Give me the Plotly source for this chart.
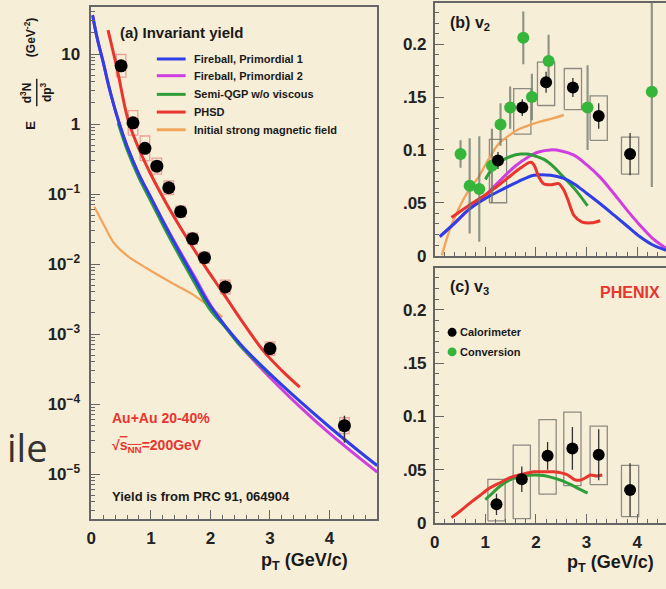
import plotly.graph_objects as go

W, H = 666, 589
BG = "#f7eed8"
FONT = "Liberation Sans"

# ---------------- (a) invariant yield ----------------
pt_yield = [0.5, 0.7, 0.9, 1.1, 1.3, 1.5, 1.7, 1.9, 2.25, 3.0, 4.25]
yield_val = [6.8, 1.04, 0.45, 0.25, 0.123, 0.056, 0.023, 0.0123, 0.0047, 6.2e-4, 4.9e-5]
yield_stat_up = [0.4, 0.06, 0.03, 0.015, 0.008, 0.004, 0.002, 0.001, 0.0004, 6e-5, 1.9e-5]
yield_stat_dn = [0.4, 0.06, 0.03, 0.015, 0.008, 0.004, 0.002, 0.001, 0.0004, 6e-5, 2.1e-5]
yield_sys_rel = [0.45, 0.5, 0.5, 0.3, 0.25, 0.2, 0.2, 0.2, 0.25, 0.25, 0.3]

pt_fb1 = [0.02, 0.1, 0.2, 0.3, 0.45, 0.6, 0.8, 1.0, 1.25, 1.5, 1.75, 2.0, 2.5, 3.0, 3.5, 4.0, 4.5, 4.8]
y_fb1 = [36, 16.6, 7.6, 3.3, 1.15, 0.48, 0.19, 0.089, 0.034, 0.0138, 0.0058, 0.0025,
         7.2e-4, 2.7e-4, 1.1e-4, 4.7e-5, 2.1e-5, 1.32e-5]
pt_fb2 = pt_fb1
y_fb2 = [36, 16.6, 7.6, 3.3, 1.15, 0.48, 0.19, 0.089, 0.035, 0.0145, 0.0062, 0.0026,
         6.9e-4, 2.4e-4, 9.2e-5, 3.8e-5, 1.7e-5, 1.07e-5]
pt_sqgp = [0.45, 0.6, 0.8, 1.0, 1.25, 1.5, 1.75, 2.0, 2.25, 2.5, 2.75, 3.0]
y_sqgp = [1.03, 0.43, 0.17, 0.079, 0.030, 0.0122, 0.0051, 0.0022, 1.25e-3, 6.8e-4, 4.2e-4, 2.6e-4]
pt_phsd = [0.28, 0.43, 0.62, 0.8, 1.0, 1.25, 1.55, 1.9, 2.2, 2.5, 2.9, 3.2, 3.5]
y_phsd = [22, 6.3, 1.12, 0.44, 0.19, 0.076, 0.028, 0.0095, 0.0040, 0.00166, 5.6e-4, 3.0e-4, 1.74e-4]
pt_mag = [0.05, 0.22, 0.38, 0.6, 0.93, 1.33, 1.72, 2.0, 2.2]
y_mag = [0.066, 0.035, 0.020, 0.0132, 0.0087, 0.0055, 0.0036, 0.0024, 0.00174]

# ---------------- (b) v2 ----------------
pt_v2_cal = [1.25, 1.73, 2.20, 2.73, 3.24, 3.86]
v2_cal = [0.090, 0.140, 0.164, 0.159, 0.132, 0.096]
v2_cal_stat = [0.008, 0.008, 0.010, 0.009, 0.012, 0.020]
v2_cal_sys_up = [0.020, 0.018, 0.019, 0.018, 0.019, 0.016]
v2_cal_sys_dn = [0.040, 0.025, 0.022, 0.021, 0.023, 0.019]

pt_v2_conv = [0.51, 0.69, 0.88, 1.13, 1.30, 1.49, 1.75, 1.92, 2.25, 3.02, 4.29]
v2_conv = [0.096, 0.066, 0.063, 0.085, 0.124, 0.140, 0.206, 0.150, 0.184, 0.140, 0.155]
v2_conv_err = [0.013, 0.045, 0.05, 0.035, 0.02, 0.02, 0.025, 0.022, 0.025, 0.04, 0.09]

pt_v2_fb1 = [0.1, 0.4, 0.66, 1.0, 1.31, 1.65, 1.96, 2.29, 2.55, 2.75, 3.0, 3.27, 3.55, 3.8, 4.05, 4.31, 4.57]
v2_fb1 = [0.018, 0.031, 0.043, 0.054, 0.062, 0.070, 0.076, 0.076, 0.073, 0.068, 0.059, 0.049,
          0.038, 0.028, 0.018, 0.010, 0.005]
pt_v2_fb2 = [0.1, 0.4, 0.66, 1.0, 1.31, 1.6, 1.84, 2.05, 2.29, 2.5, 2.75, 3.0, 3.27, 3.55, 3.8, 4.05, 4.31, 4.57]
v2_fb2 = [0.018, 0.031, 0.043, 0.057, 0.072, 0.085, 0.093, 0.098, 0.100, 0.099, 0.095, 0.086,
          0.074, 0.058, 0.043, 0.029, 0.016, 0.007]
pt_v2_sqgp = [1.0, 1.12, 1.3, 1.51, 1.7, 1.84, 2.0, 2.16, 2.35, 2.55, 2.8, 3.02]
v2_sqgp = [0.072, 0.081, 0.089, 0.094, 0.096, 0.096, 0.094, 0.091, 0.084, 0.074, 0.061, 0.047]
pt_v2_phsd = [0.33, 0.66, 1.05, 1.3, 1.51, 1.7, 1.86, 1.92, 1.98, 2.05, 2.15, 2.29, 2.45, 2.55,
              2.63, 2.75, 2.9, 3.1, 3.27]
v2_phsd = [0.036, 0.047, 0.059, 0.068, 0.076, 0.083, 0.088, 0.088, 0.084, 0.075, 0.068, 0.067,
           0.068, 0.062, 0.053, 0.038, 0.032, 0.031, 0.033]
pt_v2_mag = [0.14, 0.3, 0.47, 0.65, 0.86, 1.05, 1.25, 1.45, 1.64, 1.9, 2.1, 2.35, 2.55]
v2_mag = [0.0, 0.025, 0.044, 0.060, 0.074, 0.090, 0.105, 0.113, 0.119, 0.124, 0.127, 0.130, 0.133]

# ---------------- (c) v3 ----------------
pt_v3_cal = [1.22, 1.72, 2.23, 2.72, 3.24, 3.86]
v3_cal = [0.0175, 0.041, 0.063, 0.070, 0.064, 0.031]
v3_cal_stat = [0.010, 0.012, 0.013, 0.020, 0.024, 0.025]
v3_cal_sys_lo = [0.002, 0.004, 0.027, 0.035, 0.036, 0.006]
v3_cal_sys_hi = [0.041, 0.073, 0.097, 0.104, 0.091, 0.054]

pt_v3_sqgp = [1.0, 1.12, 1.3, 1.51, 1.75, 1.96, 2.15, 2.29, 2.5, 2.69, 2.85, 3.02]
v3_sqgp = [0.022, 0.027, 0.035, 0.041, 0.044, 0.045, 0.0445, 0.043, 0.040, 0.036, 0.032, 0.028]
pt_v3_phsd = [0.33, 0.5, 0.73, 0.9, 1.06, 1.3, 1.51, 1.75, 1.96, 2.2, 2.35, 2.5, 2.63, 2.75,
              2.85, 2.92, 3.0, 3.08, 3.2, 3.31]
v3_phsd = [0.005, 0.011, 0.020, 0.026, 0.032, 0.038, 0.043, 0.046, 0.048, 0.048, 0.048, 0.047,
           0.045, 0.041, 0.040, 0.041, 0.043, 0.045, 0.044, 0.045]

model_names = ["Fireball, Primordial 1", "Fireball, Primordial 2", "Semi-QGP w/o viscous",
               "PHSD", "Initial strong magnetic field"]
model_colors = ["#2e3fe6", "#cf3fe0", "#2f9e3a", "#e8352e", "#f2a55a"]

yield_ticks = [1e-5, 1e-4, 1e-3, 1e-2, 1e-1, 1, 10]
yield_ticktext = ["10<sup>−5</sup>", "10<sup>−4</sup>", "10<sup>−3</sup>", "10<sup>−2</sup>",
                  "10<sup>−1</sup>", "1", "10"]
v_ticks = [0, 0.05, 0.1, 0.15, 0.2]
v_ticktext = ["0", ".05", "0.1", ".15", "0.2"]


def px(x):
    return x / W


def py(y):
    return 1 - y / H


fig = go.Figure()


def curve(x, y, color, xa, ya, width=3.0, smooth=1.0):
    fig.add_trace(go.Scatter(x=x, y=y, mode="lines", xaxis=xa, yaxis=ya, showlegend=False,
                             line=dict(color=color, width=width, shape="spline", smoothing=smooth),
                             hoverinfo="skip"))


def boxes(xc, lo, hi, half, color, xa, ya, width=1.3):
    bx, by = [], []
    for c, a, b in zip(xc, lo, hi):
        bx += [c - half, c + half, c + half, c - half, c - half, None]
        by += [a, a, b, b, a, None]
    fig.add_trace(go.Scatter(x=bx, y=by, mode="lines", xaxis=xa, yaxis=ya, showlegend=False,
                             line=dict(color=color, width=width), hoverinfo="skip"))


# (a) systematic boxes
boxes(pt_yield, [v / (1 + s) for v, s in zip(yield_val, yield_sys_rel)],
      [v * (1 + s) for v, s in zip(yield_val, yield_sys_rel)], 0.08,
      "rgba(225,95,95,0.55)", "x", "y")
# (a) model curves
curve(pt_mag, y_mag, model_colors[4], "x", "y", width=2.2)
curve(pt_fb2, y_fb2, model_colors[1], "x", "y")
curve(pt_sqgp, y_sqgp, model_colors[2], "x", "y")
curve(pt_fb1, y_fb1, model_colors[0], "x", "y")
curve(pt_phsd, y_phsd, model_colors[3], "x", "y")
# (a) data
fig.add_trace(go.Scatter(
    x=pt_yield, y=yield_val, mode="markers", xaxis="x", yaxis="y", showlegend=False,
    marker=dict(color="black", size=13),
    error_y=dict(type="data", symmetric=False, array=yield_stat_up, arrayminus=yield_stat_dn,
                 color="#333", thickness=1.5, width=0)))

# (b) boxes and curves
boxes(pt_v2_cal, [v - d for v, d in zip(v2_cal, v2_cal_sys_dn)],
      [v + u for v, u in zip(v2_cal, v2_cal_sys_up)], 0.17, "rgba(105,105,100,0.75)", "x2", "y2")
curve(pt_v2_mag, v2_mag, model_colors[4], "x2", "y2", width=2.4)
curve(pt_v2_fb2, v2_fb2, model_colors[1], "x2", "y2")
curve(pt_v2_sqgp, v2_sqgp, model_colors[2], "x2", "y2")
curve(pt_v2_fb1, v2_fb1, model_colors[0], "x2", "y2")
curve(pt_v2_phsd, v2_phsd, model_colors[3], "x2", "y2", smooth=0.7)
fig.add_trace(go.Scatter(
    x=pt_v2_conv, y=v2_conv, mode="markers", xaxis="x2", yaxis="y2", showlegend=False,
    marker=dict(color="#35b53a", size=12),
    error_y=dict(type="data", array=v2_conv_err, color="rgba(110,120,105,0.75)",
                 thickness=2.2, width=0)))
fig.add_trace(go.Scatter(
    x=pt_v2_cal, y=v2_cal, mode="markers", xaxis="x2", yaxis="y2", showlegend=False,
    marker=dict(color="black", size=12),
    error_y=dict(type="data", array=v2_cal_stat, color="#333", thickness=1.3, width=0)))

# (c) boxes and curves
boxes(pt_v3_cal, v3_cal_sys_lo, v3_cal_sys_hi, 0.17, "rgba(105,105,100,0.75)", "x3", "y3")
curve(pt_v3_sqgp, v3_sqgp, model_colors[2], "x3", "y3")
curve(pt_v3_phsd, v3_phsd, model_colors[3], "x3", "y3", smooth=0.7)
fig.add_trace(go.Scatter(
    x=pt_v3_cal, y=v3_cal, mode="markers", xaxis="x3", yaxis="y3", showlegend=False,
    marker=dict(color="black", size=12),
    error_y=dict(type="data", array=v3_cal_stat, color="#333", thickness=1.3, width=0)))

# ---------------- axes ----------------
AX = "#666"
tickfont = dict(family=FONT, size=17, color="#222", weight="bold")
common = dict(showline=True, linecolor=AX, linewidth=1.6, ticks="inside", ticklen=9,
              tickcolor=AX, tickwidth=1.3, showgrid=False, zeroline=False, tickfont=tickfont)

minor_log = [m * 10 ** e for e in range(-6, 2) for m in range(2, 10)]

fig.update_layout(
    xaxis=dict(domain=[px(87), px(375)], range=[0, 4.8], anchor="y", mirror=True,
               tickvals=[0, 1, 2, 3, 4], ticklabelstandoff=3,
               minor=dict(dtick=0.2, ticks="inside", ticklen=4, tickcolor=AX), **common),
    yaxis=dict(domain=[py(528), py(7)], type="log", range=[-5.643, 1.674], anchor="x",
               mirror=True, tickvals=yield_ticks, ticktext=yield_ticktext, ticklabelstandoff=6,
               minor=dict(tickvals=minor_log, ticks="inside", ticklen=4, tickcolor=AX), **common),
    xaxis2=dict(domain=[px(433), 1], range=[0, 4.57], anchor="y2", mirror=True,
                showticklabels=False, tickvals=[0, 1, 2, 3, 4],
                minor=dict(dtick=0.2, ticks="inside", ticklen=4, tickcolor=AX), **common),
    yaxis2=dict(domain=[py(260), py(3)], range=[0, 0.239], anchor="x2",
                tickvals=v_ticks, ticktext=v_ticktext, ticklabelstandoff=3,
                minor=dict(dtick=0.01, ticks="inside", ticklen=4, tickcolor=AX), **common),
    xaxis3=dict(domain=[px(433), 1], range=[0, 4.57], anchor="y3", mirror=True,
                tickvals=[0, 1, 2, 3, 4], ticklabelstandoff=3,
                minor=dict(dtick=0.2, ticks="inside", ticklen=4, tickcolor=AX), **common),
    yaxis3=dict(domain=[py(532), py(273)], range=[0, 0.239], anchor="x3",
                tickvals=v_ticks, ticktext=v_ticktext, ticklabelstandoff=3,
                minor=dict(dtick=0.01, ticks="inside", ticklen=4, tickcolor=AX), **common),
)

# ---------------- text ----------------
annotations = []


def ann(text, x, y, size, color="#1a1a1a", xanchor="left", yanchor="middle", angle=0,
        weight="bold", family=FONT):
    annotations.append(dict(text=text, x=px(x), y=py(y), xref="paper", yref="paper",
                            xanchor=xanchor, yanchor=yanchor, showarrow=False, textangle=angle,
                            font=dict(family=family, size=size, color=color, weight=weight)))


ann("(a) Invariant yield", 114, 33, 15)
legend_y = [60, 77, 96, 114, 132]
shapes = []
for name, col, yy in zip(model_names, model_colors, legend_y):
    shapes.append(dict(type="line", xref="paper", yref="paper", x0=px(153), x1=px(182),
                       y0=py(yy), y1=py(yy), line=dict(color=col, width=3)))
    ann(name, 188, yy, 11)

ann("Au+Au 20-40%", 106, 425, 14, color="#e8352e")
ann("√<span style='text-decoration:overline'>s<sub>NN</sub></span>=200GeV", 106, 454, 14,
    color="#e8352e")
ann("Yield is from PRC 91, 064904", 106, 505, 13)

# y title of (a): E d3N/dp3 (GeV^-2)
ann("E", 26, 127, 13, xanchor="center", angle=-90)
ann("d<sup>3</sup>N", 22, 94, 12, xanchor="center", angle=-90)
ann("dp<sup>3</sup>", 42, 94, 12, xanchor="center", angle=-90)
shapes.append(dict(type="line", xref="paper", yref="paper", x0=px(32), x1=px(32),
                   y0=py(80), y1=py(108), line=dict(color="#1a1a1a", width=1.4)))
ann("(GeV<sup>-2</sup>)", 26, 38, 12, xanchor="center", angle=-90)

ann("p<sub>T</sub> (GeV/c)", 348, 571, 18, xanchor="right")
ann("p<sub>T</sub> (GeV/c)", 656, 573, 18, xanchor="right")

ann("(b) v<sub>2</sub>", 446, 24, 16)
ann("(c) v<sub>3</sub>", 446, 292, 16)
ann("PHENIX", 662, 298, 16, color="#e8352e", xanchor="right")
for label, col, yy in [("Calorimeter", "black", 338), ("Conversion", "#35b53a", 358)]:
    shapes.append(dict(type="circle", xref="paper", yref="paper", x0=px(446), x1=px(455),
                       y0=py(yy - 4.5), y1=py(yy + 4.5), fillcolor=col, line=dict(width=0)))
    ann(label, 456, yy, 11)

ann("ile", 0, 455, 38, color="#333", xanchor="left", weight="normal", family="Open Sans")

fig.update_layout(width=W, height=H, margin=dict(l=0, r=0, t=0, b=0),
                  paper_bgcolor=BG, plot_bgcolor=BG, showlegend=False,
                  annotations=annotations, shapes=shapes)

fig.write_html("out.html")
